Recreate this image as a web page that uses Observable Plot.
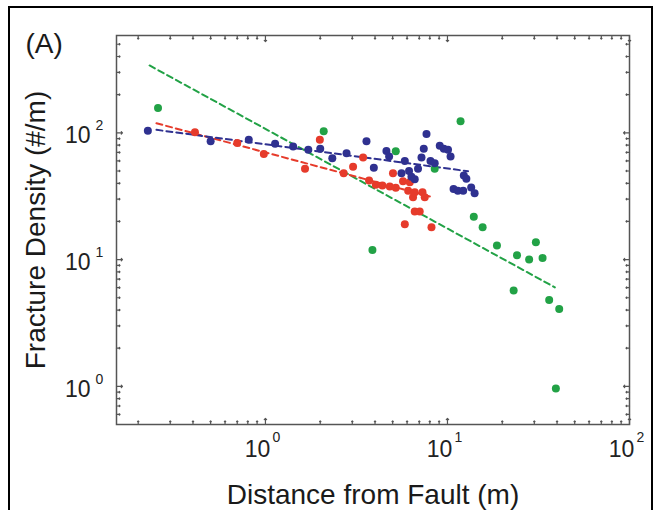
<!DOCTYPE html>
<html>
<head>
<meta charset="utf-8">
<script src="https://cdn.jsdelivr.net/npm/d3@7"></script>
<script src="https://cdn.jsdelivr.net/npm/@observablehq/plot@0.6"></script>
<style>
  html, body { margin: 0; padding: 0; background: #fff; }
  #wrap { position: relative; width: 663px; height: 510px; overflow: hidden; }
  #border { position: absolute; left: 8px; top: 6px; width: 645px; height: 530px; border: 2.5px solid #000; box-sizing: border-box; pointer-events: none; }
</style>
</head>
<body>
<div id="wrap"><div id="chart"></div><div id="border"></div></div>
<script>
// ---- data ----
const blueX = [0.226, 0.50, 0.81, 1.13, 1.42, 1.72, 2.0, 2.33, 2.79, 3.59, 3.94, 4.62, 4.78, 5.59, 5.83, 6.15, 6.34, 6.61, 6.89, 7.2, 7.41, 7.67, 8.07, 8.51, 9.07, 9.55, 10.07, 10.4, 10.8, 11.4, 12.2, 12.3, 12.7, 13.5, 14.1];
const blueY = [104, 86, 88, 82, 78, 73.5, 75, 63, 69, 86, 53, 72, 65, 48, 60, 50, 45, 43, 52, 64, 75, 98, 60, 57.5, 79, 75, 73.5, 65, 36, 35, 35, 46, 43.4, 37, 33.4];

const redX = [0.41, 0.70, 0.98, 1.65, 1.99, 2.69, 3.03, 3.44, 3.71, 4.04, 4.39, 4.82, 5.02, 5.2, 5.7, 6.08, 6.21, 6.47, 6.61, 6.61, 7.04, 7.29, 7.5, 5.83, 8.17];
const redY = [101, 83, 68, 52, 88, 48, 54, 64, 42, 39, 38.4, 37.7, 48, 36.8, 41.5, 35, 40.7, 31, 34, 24, 24, 34, 31, 19, 18];

const greenX = [0.257, 2.09, 3.87, 5.2, 8.51, 11.8, 13.95, 15.6, 18.7, 23.1, 24.1, 28.1, 30.6, 33.3, 36.2, 39.4, 41.1];
const greenY = [157, 103, 11.9, 71.6, 52, 123.5, 21.8, 18, 12.9, 5.7, 10.8, 10.0, 13.7, 10.3, 4.8, 0.96, 4.08];

// fitted power-law lines (end points)
const blueFitX = [0.252, 12.97];
const blueFitY = [105.6, 49.8];
const redFitX = [0.252, 8.0];
const redFitY = [119, 31.5];
const greenFitX = [0.231, 38.9];
const greenFitY = [340, 6.04];

const xMajor = [1, 10, 100];
const xMinor = [0.2, 0.3, 0.4, 0.5, 0.6, 0.7, 0.8, 0.9, 2, 3, 4, 5, 6, 7, 8, 9, 20, 30, 40, 50, 60, 70, 80, 90];
const yMajor = [1, 10, 100];
const yMinor = [0.6, 0.7, 0.8, 0.9, 2, 3, 4, 5, 6, 7, 8, 9, 20, 30, 40, 50, 60, 70, 80, 90, 200, 300, 400, 500];

const panelLabel = "(A)";
const xLabel = "Distance from Fault (m)";
const yLabel = "Fracture Density (#/m)";

// ---- build ----
const pts = (xs, ys) => xs.map((x, i) => ({x, y: ys[i]}));
const blue = pts(blueX, blueY), red = pts(redX, redY), green = pts(greenX, greenY);
const blueFit = pts(blueFitX, blueFitY), redFit = pts(redFitX, redFitY), greenFit = pts(greenFitX, greenFitY);

const C = {blue: "#2f3190", red: "#e63b2b", green: "#22a246"};
const font = "'Liberation Sans', Arial, Helvetica, sans-serif";
const tickColor = "#555";

const tickMarks = (vals, len) => [
  Plot.vector(vals, {x: d => d, frameAnchor: "bottom", length: len, rotate: 0, anchor: "start", stroke: tickColor, strokeWidth: 1.2}),
  Plot.vector(vals, {x: d => d, frameAnchor: "top", length: len, rotate: 180, anchor: "start", stroke: tickColor, strokeWidth: 1.2})
];
const tickMarksY = (vals, len) => [
  Plot.vector(vals, {y: d => d, frameAnchor: "left", length: len, rotate: 90, anchor: "start", stroke: tickColor, strokeWidth: 1.2}),
  Plot.vector(vals, {y: d => d, frameAnchor: "right", length: len, rotate: -90, anchor: "start", stroke: tickColor, strokeWidth: 1.2})
];

const chart = Plot.plot({
  width: 663,
  height: 510,
  marginLeft: 116,
  marginRight: 34,
  marginTop: 35,
  marginBottom: 86,
  style: {fontFamily: font, background: "transparent"},
  x: {type: "log", domain: [0.152, 100], axis: null},
  y: {type: "log", domain: [0.5, 586], axis: null},
  marks: [
    ...tickMarks(xMajor, 6), ...tickMarks(xMinor, 3.5),
    ...tickMarksY(yMajor, 6), ...tickMarksY(yMinor, 3.5),
    Plot.frame({stroke: tickColor, strokeWidth: 1.5}),
    // x tick labels
    Plot.text(xMajor, {x: d => d, frameAnchor: "bottom", lineAnchor: "middle", textAnchor: "middle", text: () => "10", dx: -8, dy: 25, fontSize: 23, fill: "#222"}),
    Plot.text(xMajor, {x: d => d, frameAnchor: "bottom", lineAnchor: "middle", textAnchor: "start", text: d => String(Math.round(Math.log10(d))), dx: 7, dy: 13, fontSize: 14, fill: "#222"}),
    // y tick labels
    Plot.text(yMajor, {y: d => d, frameAnchor: "left", lineAnchor: "middle", textAnchor: "end", text: () => "10", dx: -26, dy: 3, fontSize: 23, fill: "#222"}),
    Plot.text(yMajor, {y: d => d, frameAnchor: "left", lineAnchor: "middle", textAnchor: "start", text: d => String(Math.round(Math.log10(d))), dx: -21, dy: -7, fontSize: 14, fill: "#222"}),
    // axis labels
    Plot.text([xLabel], {frameAnchor: "bottom", lineAnchor: "middle", textAnchor: "middle", text: d => d, dy: 71, fontSize: 28, fill: "#1a1a1a"}),
    Plot.text([yLabel], {frameAnchor: "left", lineAnchor: "middle", textAnchor: "middle", text: d => d, rotate: -90, dx: -80, fontSize: 28, fill: "#1a1a1a"}),
    Plot.text([panelLabel], {frameAnchor: "top-left", lineAnchor: "middle", textAnchor: "start", text: d => d, dx: -91, dy: 9, fontSize: 28, fill: "#1a1a1a"}),
    // fits
    Plot.line(greenFit, {x: "x", y: "y", stroke: C.green, strokeWidth: 2, strokeDasharray: "6,4"}),
    Plot.line(redFit, {x: "x", y: "y", stroke: C.red, strokeWidth: 2, strokeDasharray: "6,4"}),
    Plot.line(blueFit, {x: "x", y: "y", stroke: C.blue, strokeWidth: 2, strokeDasharray: "6,4"}),
    // points
    Plot.dot(green, {x: "x", y: "y", r: 4, fill: C.green}),
    Plot.dot(red, {x: "x", y: "y", r: 4, fill: C.red}),
    Plot.dot(blue, {x: "x", y: "y", r: 4, fill: C.blue})
  ]
});
document.getElementById("chart").appendChild(chart);
</script>
</body>
</html>
